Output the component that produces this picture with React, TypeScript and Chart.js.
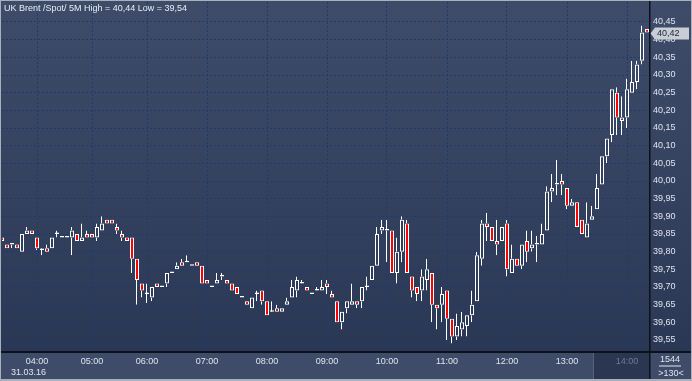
import React, { useEffect, useRef } from 'react';
import { Chart, registerables } from 'chart.js';
Chart.register(...registerables);

const categories: string[] = [
  '03:25','03:30','03:35','03:40','03:45','03:50','03:55',
  '04:00','04:05','04:10','04:15','04:20','04:25','04:35','04:40','04:45','04:50','04:55',
  '05:00','05:05','05:10','05:15','05:20','05:30','05:35','05:40','05:45','05:50','05:55',
  '06:00','06:05','06:10','06:15','06:20','06:25','06:30','06:35','06:40','06:45','06:50','06:55',
  '07:00','07:05','07:10','07:15','07:20','07:25','07:30','07:35','07:40','07:45','07:50','07:55',
  '08:00','08:05','08:10','08:15','08:20','08:25','08:30','08:35','08:40','08:45','08:50','08:55',
  '09:00','09:05','09:10','09:15','09:20','09:25','09:30','09:35','09:40','09:45','09:50','09:55',
  '10:00','10:05','10:10','10:15','10:20','10:25','10:30','10:35','10:40','10:45','10:50','10:55',
  '11:00','11:05','11:10','11:15','11:20','11:25','11:30','11:35','11:40','11:45','11:50','11:55',
  '12:00','12:05','12:10','12:15','12:20','12:25','12:30','12:35','12:40','12:45','12:50','12:55',
  '13:00','13:05','13:10','13:15','13:20','13:25','13:30','13:35','13:40','13:45','13:50','13:55',
  '14:00','14:05','14:10','14:15','14:20'
];

const hourLabels: string[] = ['04:00','05:00','06:00','07:00','08:00','09:00','10:00','11:00','12:00','13:00','14:00'];
const currentHour = '14:00';
const yTicks: number[] = [39.55,39.6,39.65,39.7,39.75,39.8,39.85,39.9,39.95,40.0,40.05,40.1,40.15,40.2,40.25,40.3,40.35,40.4,40.45];

const open: number[] = [
  39.84,39.82,39.82,39.82,39.80,39.85,39.86,39.84,39.805,39.81,
  39.81,39.85,39.84,39.84,39.84,39.85,39.83,39.85,39.85,39.84,
  39.86,39.89,39.89,39.87,39.85,39.84,39.84,39.78,39.71,39.68,
  39.67,39.71,39.70,39.71,39.74,39.75,39.77,39.77,39.76,39.77,
  39.76,39.72,39.70,39.71,39.73,39.72,39.71,39.70,39.67,39.66,
  39.64,39.68,39.69,39.66,39.63,39.64,39.63,39.65,39.67,39.69,
  39.71,39.70,39.68,39.69,39.69,39.71,39.68,39.66,39.60,39.64,
  39.65,39.66,39.66,39.70,39.72,39.76,39.86,39.86,39.86,39.74,
  39.80,39.88,39.73,39.70,39.69,39.72,39.74,39.65,39.65,39.69,
  39.61,39.56,39.58,39.59,39.62,39.66,39.78,39.88,39.87,39.83,
  39.83,39.88,39.74,39.78,39.76,39.83,39.81,39.82,39.82,39.86,
  39.97,39.99,40.00,39.98,39.93,39.94,39.89,39.84,39.89,39.92,
  39.99,40.07,40.13,40.25,40.17,40.18,40.25,40.28,40.34,40.43
];
const high: number[] = [
  39.845,39.82,39.82,39.82,39.85,39.87,39.86,39.84,39.81,39.82,
  39.84,39.86,39.84,39.84,39.87,39.85,39.88,39.86,39.85,39.88,
  39.90,39.89,39.89,39.88,39.86,39.84,39.84,39.78,39.71,39.71,
  39.70,39.71,39.70,39.74,39.74,39.77,39.78,39.79,39.76,39.77,
  39.76,39.72,39.70,39.74,39.74,39.72,39.71,39.70,39.67,39.66,
  39.67,39.69,39.69,39.66,39.66,39.65,39.64,39.67,39.72,39.73,
  39.72,39.70,39.68,39.70,39.72,39.72,39.69,39.66,39.63,39.66,
  39.71,39.66,39.70,39.73,39.76,39.87,39.89,39.89,39.86,39.84,
  39.90,39.89,39.73,39.70,39.75,39.78,39.74,39.65,39.70,39.69,
  39.61,39.625,39.63,39.62,39.69,39.80,39.89,39.91,39.87,39.89,
  39.87,39.89,39.82,39.78,39.82,39.86,39.86,39.845,39.88,39.985,
  40.02,40.06,40.02,39.98,39.95,39.94,39.89,39.94,39.93,40.02,
  40.07,40.12,40.26,40.265,40.24,40.29,40.34,40.34,40.44,40.43
];
const low: number[] = [
  39.825,39.81,39.81,39.81,39.80,39.85,39.85,39.805,39.79,39.80,
  39.81,39.84,39.84,39.84,39.79,39.83,39.83,39.84,39.84,39.83,
  39.86,39.88,39.88,39.85,39.83,39.83,39.74,39.65,39.67,39.655,
  39.66,39.70,39.70,39.70,39.74,39.75,39.76,39.77,39.76,39.76,
  39.71,39.71,39.70,39.71,39.72,39.71,39.69,39.68,39.67,39.65,
  39.64,39.66,39.65,39.62,39.63,39.63,39.63,39.65,39.67,39.67,
  39.71,39.69,39.68,39.69,39.69,39.68,39.67,39.60,39.58,39.625,
  39.65,39.64,39.64,39.69,39.72,39.76,39.85,39.77,39.74,39.71,
  39.77,39.74,39.67,39.66,39.66,39.69,39.60,39.58,39.60,39.55,
  39.54,39.55,39.56,39.56,39.60,39.66,39.76,39.83,39.83,39.79,
  39.83,39.73,39.74,39.76,39.75,39.77,39.80,39.77,39.82,39.86,
  39.94,39.96,39.96,39.92,39.93,39.87,39.85,39.84,39.89,39.92,
  39.99,40.05,40.11,40.13,40.13,40.15,40.25,40.26,40.33,40.42
];
const close: number[] = [
  39.83,39.81,39.82,39.81,39.85,39.86,39.85,39.81,39.805,39.80,
  39.84,39.85,39.84,39.84,39.86,39.83,39.84,39.84,39.84,39.87,
  39.88,39.88,39.88,39.86,39.84,39.83,39.78,39.72,39.69,39.68,
  39.70,39.70,39.70,39.74,39.74,39.76,39.76,39.77,39.76,39.76,
  39.71,39.71,39.70,39.72,39.73,39.71,39.69,39.68,39.67,39.65,
  39.67,39.68,39.66,39.62,39.63,39.63,39.64,39.66,39.70,39.72,
  39.71,39.69,39.68,39.69,39.70,39.70,39.67,39.60,39.63,39.66,
  39.66,39.65,39.70,39.70,39.76,39.85,39.87,39.86,39.74,39.80,
  39.89,39.74,39.69,39.68,39.73,39.75,39.65,39.64,39.68,39.61,
  39.56,39.59,39.60,39.62,39.65,39.79,39.88,39.87,39.83,39.82,
  39.87,39.75,39.78,39.76,39.82,39.80,39.82,39.82,39.85,39.97,
  39.98,39.99,39.99,39.93,39.94,39.87,39.85,39.88,39.90,39.98,
  40.07,40.12,40.26,40.18,40.18,40.26,40.28,40.33,40.42,40.42
];

const titleText = 'UK Brent /Spot/ 5M';
const dateLabel = '31.03.16';
const counterLabel = '1544';

const FONT = '"Liberation Sans", Arial, sans-serif';
const GRID = '#1d3b6c';
const TEXT = '#dfe5ee';

export default function App() {
  const ref = useRef<HTMLCanvasElement>(null);

  useEffect(() => {
    const canvas = ref.current!;
    const n = categories.length;
    const body = open.map((o, i) => [o, close[i]]);
    const upper = open.map((o, i) => [Math.max(o, close[i]), high[i]]);
    const lower = open.map((o, i) => [low[i], Math.min(o, close[i])]);
    const bodyColors = open.map((o, i) => (close[i] < o ? '#ff0000' : 'rgba(0,0,0,0)'));
    const hi = Math.max(...high);
    const lo = Math.min(...low);
    const last = close[n - 1];
    const fmt = (v: number) => v.toFixed(2).replace('.', ',');
    const hourIdx = hourLabels.map((h) => categories.indexOf(h));
    const curIdx = categories.indexOf(currentHour);

    const panelPlugin = {
      id: 'panels',
      beforeDraw(chart: any) {
        const c = chart.ctx;
        c.save();
        c.fillStyle = '#3e4c6a';
        c.fillRect(0, 0, 692, 381);
        const g = c.createLinearGradient(0, 0, 0, 352);
        g.addColorStop(0, '#3e4c6a');
        g.addColorStop(1, '#2b3855');
        c.fillStyle = g;
        c.fillRect(0, 0, 692, 352);
        const xs = chart.scales.x;
        const xc = xs.getPixelForValue(curIdx);
        const left = Math.round(xc - 34);
        c.fillStyle = '#2b3651';
        c.fillRect(left, 353, 649 - left, 26);
        c.fillStyle = '#56627a';
        c.fillRect(left, 353, 1, 26);
        c.restore();
      },
      afterDraw(chart: any) {
        const c = chart.ctx;
        const ys = chart.scales.y;
        c.save();
        // separators
        c.fillStyle = '#0c111b';
        c.fillRect(0, 351, 692, 2);
        c.fillRect(649, 0, 1.5, 381);
        // outer border
        c.fillStyle = '#a9b0bd';
        c.fillRect(0, 0, 692, 1);
        c.fillRect(0, 0, 1, 381);
        c.fillRect(691, 0, 1, 381);
        c.fillRect(0, 379, 692, 2);
        // title
        c.font = '9px ' + FONT;
        c.fillStyle = '#e9edf3';
        c.textBaseline = 'alphabetic';
        c.textAlign = 'left';
        c.fillText(titleText + ' High = ' + fmt(hi) + ' Low = ' + fmt(lo), 4, 11);
        // date
        c.fillStyle = TEXT;
        c.fillText(dateLabel, 11, 375);
        // counter
        c.textAlign = 'center';
        c.fillText(counterLabel, 670, 362);
        c.fillRect(659, 365.5, 22, 1);
        c.fillText('>' + n + '<', 671, 376);
        // price tag
        const py = Math.round(ys.getPixelForValue(last)) + 0.5;
        c.fillStyle = '#c8cdd6';
        c.beginPath();
        c.moveTo(650.5, py);
        c.lineTo(655, py - 6);
        c.lineTo(689, py - 6);
        c.lineTo(689, py + 6);
        c.lineTo(655, py + 6);
        c.closePath();
        c.fill();
        c.fillStyle = '#1a2232';
        c.textAlign = 'left';
        c.textBaseline = 'middle';
        c.fillText(fmt(last), 657, py + 0.5);
        c.restore();
      },
    };

    const wickCommon = {
      backgroundColor: 'rgba(0,0,0,0)',
      borderColor: '#ffffff',
      borderWidth: { left: 1, right: 0, top: 0, bottom: 0 },
      borderSkipped: false,
      barThickness: 2,
      grouped: false,
      inflateAmount: 0,
      clip: { left: 0, top: 0, right: 3, bottom: 0 },
      order: 1,
    };

    const chart = new Chart(canvas, {
      type: 'bar',
      data: {
        labels: categories,
        datasets: [
          {
            data: body,
            backgroundColor: bodyColors,
            borderColor: '#ffffff',
            borderWidth: 1,
            borderSkipped: false,
            barThickness: 4,
            minBarLength: 1.5,
            grouped: false,
            inflateAmount: 0,
            clip: { left: 0, top: 0, right: 3, bottom: 0 },
            order: 0,
          } as any,
          { data: upper, ...wickCommon } as any,
          { data: lower, ...wickCommon } as any,
        ],
      },
      options: {
        responsive: false,
        animation: false,
        events: [],
        layout: { padding: { left: 2, top: 2, right: 0, bottom: 0 }, autoPadding: false } as any,
        plugins: { legend: { display: false }, tooltip: { enabled: false }, title: { display: false } },
        scales: {
          x: {
            type: 'category',
            offset: false,
            grid: {
              offset: false,
              drawTicks: false,
              lineWidth: 1,
              color: (ctx: any) => (hourIdx.includes(ctx.index) ? GRID : 'rgba(0,0,0,0)'),
            },
            border: { display: false, dash: [2, 2] },
            ticks: {
              autoSkip: false,
              maxRotation: 0,
              minRotation: 0,
              padding: 5,
              font: { family: FONT, size: 9 },
              color: (ctx: any) => (ctx.index === curIdx ? '#6e7b94' : TEXT),
              callback: (_v: any, i: number) => (hourIdx.includes(i) ? categories[i] : ''),
            },
            afterFit: (s: any) => {
              s.height = 30;
              s.paddingLeft = 0;
              s.paddingRight = 0;
            },
          } as any,
          y: {
            type: 'linear',
            position: 'right',
            min: 39.5189,
            max: 40.5066,
            grid: { drawTicks: false, lineWidth: 1, color: GRID },
            border: { display: false, dash: [2, 2] },
            ticks: {
              padding: 6,
              font: { family: FONT, size: 9 },
              color: TEXT,
              callback: (v: any) => fmt(Number(v)),
            },
            afterBuildTicks: (s: any) => {
              s.ticks = yTicks.map((v) => ({ value: v }));
            },
            afterFit: (s: any) => {
              s.width = 45;
              s.paddingTop = 0;
              s.paddingBottom = 0;
            },
          } as any,
        },
      },
      plugins: [panelPlugin],
    });
    return () => chart.destroy();
  }, []);

  return (
    <div style={{ position: 'fixed', left: 0, top: 0, width: 692, height: 381 }}>
      <canvas ref={ref} width={692} height={381} style={{ display: 'block', width: 692, height: 381 }} />
    </div>
  );
}
